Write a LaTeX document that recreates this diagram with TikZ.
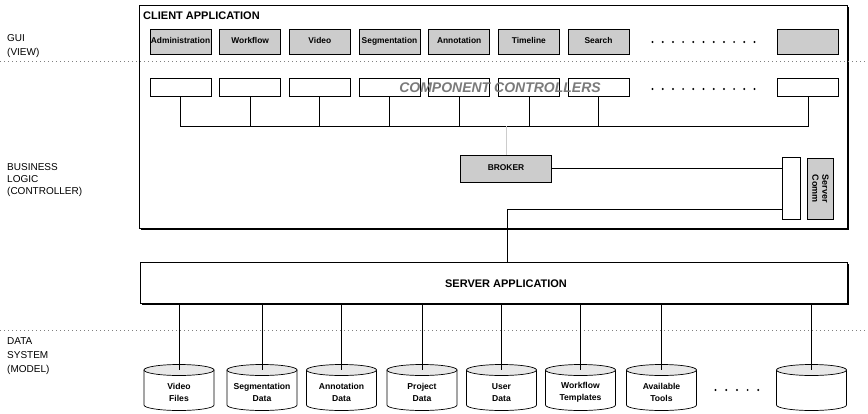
\documentclass[tikz,border=0pt]{standalone}
\usepackage{fontspec}
\setmainfont{Liberation Sans}
\usetikzlibrary{shadows}

\definecolor{boxFill}{HTML}{CCCCCC}
\definecolor{endFill}{HTML}{E8E8E8}
\definecolor{sepColour}{HTML}{808080}
\definecolor{titleGrey}{HTML}{7A7A7A}

\tikzset{
  layerframe/.style={draw, line width=0.9pt, fill=white, inner sep=0pt,
    drop shadow={shadow xshift=1.1pt, shadow yshift=-1.1pt, fill=black, opacity=1}},
  guibox/.style={draw, line width=0.7pt, fill=boxFill, inner sep=0pt, text height=6.2pt, text depth=1.8pt,
    minimum width=61pt, minimum height=25pt, font=\fontsize{8.4}{9}\selectfont\bfseries},
  ctrlbox/.style={draw, line width=0.7pt, fill=white, inner sep=0pt,
    minimum width=61pt, minimum height=18pt},
  layerlabel/.style={anchor=west, align=left, inner sep=0pt, font=\fontsize{10}{14}\selectfont},
  sepline/.style={sepColour, line width=0.7pt, dash pattern=on 0.8pt off 3.2pt},
  link/.style={line width=0.7pt},
  dblabel/.style={align=center, inner sep=0pt, font=\fontsize{8.6}{11.5}\selectfont\bfseries}
}

\begin{document}
\begin{tikzpicture}[x=1pt, y=-1pt]
    \useasboundingbox (0,0) rectangle (868,413);

    % Layer names on the left
    \node[layerlabel] (guiname) at (7,46) {GUI\\(VIEW)};
    \node[layerlabel, font=\fontsize{10}{12}\selectfont] (bizname) at (7,180.5) {BUSINESS\\LOGIC\\(CONTROLLER)};
    \node[layerlabel] (dataname) at (7,356) {DATA\\SYSTEM\\(MODEL)};

    % Client and server frames
    \node[layerframe, anchor=north west, minimum width=708pt, minimum height=223pt] (client) at (139,5) {};
    \node[layerframe, anchor=north west, minimum width=707pt, minimum height=41pt] (server) at (140,262) {};
    \node[anchor=west, inner sep=0pt, font=\fontsize{11}{13}\selectfont\bfseries] (clienttitle) at (143,16) {CLIENT APPLICATION};
    \node[inner sep=0pt, font=\fontsize{11}{13}\selectfont\bfseries] (servertitle) at (506,284) {SERVER APPLICATION};

    % Dotted layer separators
    \draw[sepline] (0,61) -- (868,61);
    \draw[sepline] (0,330) -- (868,330);

    % GUI components
    \foreach \lbl [count=\i] in {Administration, Workflow, Video, Segmentation, Annotation, Timeline, Search}
        \node[guibox] (gui\i) at ({180.5+69.67*(\i-1)},41.5) {\lbl};
    \node[guibox] (gui8) at (808,41.5) {};
    \foreach \k in {0,...,10}
        \fill ({652.5+10.2*\k},42) circle[radius=1.1pt];

    % Component controllers
    \foreach \i in {1,...,7}
        \node[ctrlbox] (ctrl\i) at ({180.5+69.67*(\i-1)},87) {};
    \node[ctrlbox] (ctrl8) at (808,87) {};
    \foreach \k in {0,...,10}
        \fill ({652.5+10.2*\k},89) circle[radius=1.1pt];
    \node[inner sep=0pt, text=titleGrey, font=\fontsize{14}{16}\selectfont\bfseries\itshape] (ctrltitle) at (500,88) {COMPONENT CONTROLLERS};

    % Controller bus
    \coordinate (bus) at (0,126);
    \draw[link] (ctrl1.south) |- (ctrl8.south |- bus) -- (ctrl8.south);
    \foreach \i in {2,...,7}
        \draw[link] (ctrl\i.south) -- (ctrl\i.south |- bus);

    % Broker and server communication
    \node[guibox, minimum width=91pt, minimum height=27pt] (broker) at (506,168.4) {BROKER};
    \draw[gray!40, line width=0.5pt] (broker.north |- bus) -- (broker.north);
    \node[ctrlbox, minimum width=18pt, minimum height=62pt] (comm) at (791,188) {};
    \node[guibox, rotate=-90, minimum width=61pt, minimum height=25.6pt, align=center,
          text height={}, text depth={}, font=\fontsize{9}{10}\selectfont\bfseries] (servercomm) at (820.5,188.5) {Server\\Comm};
    \draw[link] (broker.east) -- (broker.east -| comm.west);
    \coordinate (drop) at (507,209);
    \draw[link] (comm.west |- drop) -- (drop) -- (drop |- server.north);

    % Data stores
    \foreach \cx/\lbl [count=\i] in {179/{Video\\Files}, 262/{Segmentation\\Data}, 341.5/{Annotation\\Data},
        422/{Project\\Data}, 501.5/{User\\Data}, 580.5/{Workflow\\Templates}, 661.5/{Available\\Tools}, 811.5/{}}
    {
        \filldraw[link, fill=white] (\cx-35,370) -- (\cx-35,405)
            arc[start angle=180, end angle=360, x radius=35pt, y radius=5.5pt] -- (\cx+35,370) -- cycle;
        \filldraw[link, fill=endFill] (\cx,370) ellipse[x radius=35pt, y radius=5.5pt];
        \coordinate (dbtop\i) at (\cx,370);
        \node[dblabel] (db\i) at (\cx,392.5) {\lbl};
        \draw[link] (server.south -| dbtop\i) -- (dbtop\i);
    }
    \foreach \k in {0,...,4}
        \fill ({715.5+10.7*\k},390) circle[radius=1.1pt];

\end{tikzpicture}
\end{document}
